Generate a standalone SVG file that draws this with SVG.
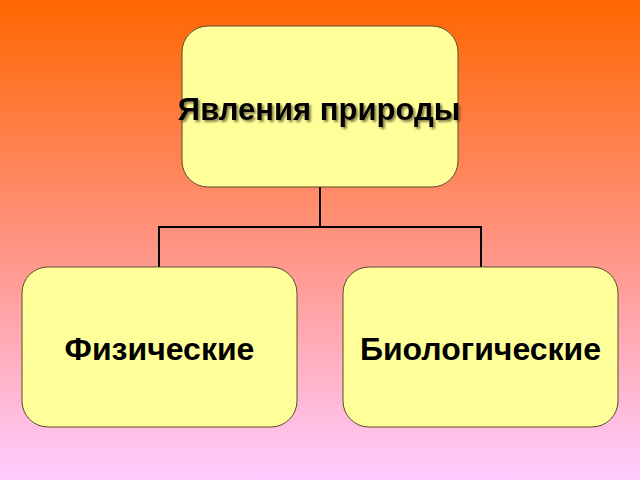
<svg xmlns="http://www.w3.org/2000/svg" width="640" height="480" viewBox="0 0 640 480">
<defs>
<linearGradient id="bg" x1="0" y1="0" x2="0" y2="1">
<stop offset="0" stop-color="#FF6600"/>
<stop offset="0.5" stop-color="#FF9380"/>
<stop offset="1" stop-color="#FFCCFF"/>
</linearGradient>
<filter id="shadow" x="-10%" y="-30%" width="120%" height="160%">
<feDropShadow dx="2" dy="2" stdDeviation="0.8" flood-color="#5a4a2a" flood-opacity="0.7"/>
</filter>
</defs>
<style>
.box{fill:#FFFF99;stroke:#5a4a2a;stroke-width:1}
.lbl{font-family:"Liberation Sans",Arial,sans-serif;font-weight:bold;fill:#000;text-anchor:middle}
.conn{fill:none;stroke:#000;stroke-width:2}
</style>
<rect width="640" height="480" fill="url(#bg)"/>
<g id="connectors">
<path class="conn" d="M320,187 V227 M159,267 V227 H481 V267"/>
</g>
<g id="root">
<rect class="box" x="182" y="26" width="276" height="161" rx="26"/>
<text class="lbl" x="319" y="120" font-size="31" filter="url(#shadow)">Явления природы</text>
</g>
<g id="phys">
<rect class="box" x="22" y="267" width="275" height="160" rx="26"/>
<text class="lbl" x="159.5" y="360" font-size="32">Физические</text>
</g>
<g id="bio">
<rect class="box" x="343" y="267" width="275" height="160" rx="26"/>
<text class="lbl" x="480.5" y="360" font-size="32">Биологические</text>
</g>
</svg>
